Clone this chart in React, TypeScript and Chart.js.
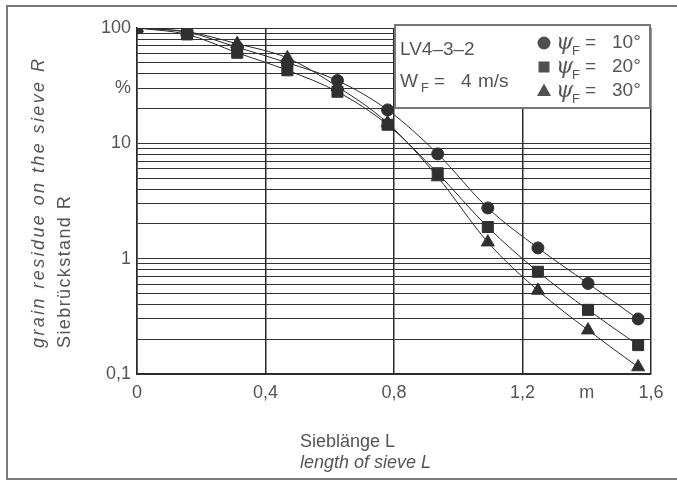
import React, { useEffect, useRef } from 'react';
import { Chart, registerables } from 'chart.js';

Chart.register(...registerables);

// ---- data ----
const sieveLength = [0, 0.156, 0.312, 0.468, 0.624, 0.78, 0.936, 1.092, 1.248, 1.404, 1.56];
const residuePsi10 = [100, 92, 68, 50, 35, 19.5, 8.1, 2.75, 1.24, 0.61, 0.3];
const residuePsi20 = [100, 88, 61, 43, 28, 14.5, 5.5, 1.88, 0.77, 0.36, 0.178];
const residuePsi30 = [100, 93, 73, 55, 31, 15, 5.1, 1.39, 0.53, 0.24, 0.115];

const xTickValues = [0, 0.4, 0.8, 1.2, 1.4, 1.6];
const xTickLabels = ['0', '0,4', '0,8', '1,2', 'm', '1,6'];
const xNoGrid = [1.4];

const yGridValues = [
  0.1, 0.2, 0.3, 0.4, 0.5, 0.6, 0.7, 0.8, 0.9,
  1, 2, 3, 4, 5, 6, 7, 8, 9,
  10, 20, 30, 40, 50, 60, 70, 80, 90, 100,
];
const yLabelValues = [0.1, 1, 10, 30, 100];
const yLabelTexts = ['0,1', '1', '10', '%', '100'];

const seriesNames = ['ψF = 10°', 'ψF = 20°', 'ψF = 30°'];
const legendAngles = ['10°', '20°', '30°'];
const testName = 'LV4–3–2';
const yTitleEn = 'grain residue on the sieve R';
const yTitleDe = 'Siebrückstand R';
const xTitleDe = 'Sieblänge L';
const xTitleEn = 'length of sieve L';

const near = (a: number, b: number) => Math.abs(a - b) <= 1e-9 * Math.max(1, Math.abs(b));

const TEXT = '#555';
const FONT = '"Liberation Sans", Arial, sans-serif';

const overlay = {
  id: 'overlay',
  afterDraw(chart: any) {
    const ctx: CanvasRenderingContext2D = chart.ctx;
    ctx.save();
    // outer frame
    ctx.strokeStyle = '#7a7a7a';
    ctx.lineWidth = 2;
    ctx.beginPath();
    ctx.moveTo(677, 6);
    ctx.lineTo(7, 6);
    ctx.lineTo(7, 479);
    ctx.lineTo(677, 479);
    ctx.stroke();

    // y titles (rotated)
    ctx.fillStyle = TEXT;
    ctx.textBaseline = 'alphabetic';
    ctx.textAlign = 'left';
    ctx.save();
    ctx.translate(44, 348);
    ctx.rotate(-Math.PI / 2);
    (ctx as any).letterSpacing = '2.4px';
    ctx.font = `italic 18px ${FONT}`;
    ctx.fillText(yTitleEn, 0, 0);
    ctx.restore();
    ctx.save();
    ctx.translate(70, 348);
    ctx.rotate(-Math.PI / 2);
    (ctx as any).letterSpacing = '1.4px';
    ctx.font = `18px ${FONT}`;
    ctx.fillText(yTitleDe, 0, 0);
    ctx.restore();

    // x titles
    ctx.font = `18px ${FONT}`;
    ctx.fillText(xTitleDe, 300, 447);
    ctx.font = `italic 18px ${FONT}`;
    ctx.fillText(xTitleEn, 300, 468);

    // legend box
    ctx.fillStyle = '#fff';
    ctx.fillRect(395, 25, 255, 83);
    ctx.strokeStyle = '#777';
    ctx.lineWidth = 2;
    ctx.strokeRect(395, 25, 255, 83);

    ctx.fillStyle = TEXT;
    ctx.textBaseline = 'middle';
    ctx.font = `19px ${FONT}`;
    ctx.fillText(testName, 400, 50);
    ctx.fillText('W', 400, 82);
    ctx.font = `13px ${FONT}`;
    ctx.fillText('F', 421, 88);
    ctx.font = `19px ${FONT}`;
    ctx.fillText('=', 434, 82);
    ctx.fillText('4', 461, 82);
    ctx.fillText('m/s', 478, 82);

    const rows = [43, 67, 91];
    rows.forEach((y, i) => {
      ctx.fillStyle = '#505050';
      ctx.beginPath();
      if (i === 0) {
        ctx.arc(544, y, 6.5, 0, Math.PI * 2);
      } else if (i === 1) {
        ctx.rect(538.5, y - 5.5, 11, 11);
      } else {
        ctx.moveTo(544, y - 7.5);
        ctx.lineTo(551, y + 5);
        ctx.lineTo(537, y + 5);
        ctx.closePath();
      }
      ctx.fill();
      ctx.fillStyle = TEXT;
      ctx.font = `italic 22px "DejaVu Serif", serif`;
      ctx.fillText('ψ', 556, y);
      ctx.font = `13px ${FONT}`;
      ctx.fillText('F', 572, y + 8);
      ctx.font = `19px ${FONT}`;
      ctx.fillText('=', 585, y);
      ctx.fillText(legendAngles[i], 612, y);
    });
    ctx.restore();
  },
};

export default function App() {
  const ref = useRef<HTMLCanvasElement>(null);
  useEffect(() => {
    if (!ref.current) return;
    const mk = (data: number[], label: string, style: string, r: number) => ({
      label,
      data: sieveLength.map((x, i) => ({ x, y: data[i] })),
      borderColor: '#2a2a2a',
      borderWidth: 1,
      backgroundColor: '#303030',
      pointBackgroundColor: '#303030',
      pointBorderColor: '#303030',
      pointStyle: style,
      pointRadius: r,
      pointBorderWidth: 1,
      cubicInterpolationMode: 'monotone',
      fill: false,
    });
    const chart = new Chart(ref.current, {
      type: 'line',
      data: {
        datasets: [
          mk(residuePsi10, seriesNames[0], 'circle', 6),
          mk(residuePsi20, seriesNames[1], 'rect', 7.8),
          mk(residuePsi30, seriesNames[2], 'triangle', 7.5),
        ] as any,
      },
      options: {
        responsive: false,
        animation: false,
        devicePixelRatio: 1,
        layout: { padding: { top: 28, right: 26, left: 0, bottom: 0 } },
        plugins: { legend: { display: false }, tooltip: { enabled: false } },
        scales: {
          x: {
            type: 'linear',
            min: 0,
            max: 1.6,
            afterBuildTicks: (s: any) => {
              s.ticks = xTickValues.map((v) => ({ value: v }));
            },
            afterFit: (s: any) => {
              s.height = 108;
            },
            grid: {
              color: (c: any) => (xNoGrid.some((v) => near(c.tick?.value, v)) ? 'rgba(0,0,0,0)' : '#2a2a2a'),
              lineWidth: 1.5,
              drawTicks: false,
            },
            border: { display: true, color: '#2a2a2a', width: 1.5 },
            ticks: {
              autoSkip: false,
              maxRotation: 0,
              padding: 8,
              color: TEXT,
              font: { family: FONT, size: 18 },
              callback: (v: any) => {
                const i = xTickValues.findIndex((t) => near(Number(v), t));
                return i >= 0 ? xTickLabels[i] : '';
              },
            },
          },
          y: {
            type: 'logarithmic',
            min: 0.1,
            max: 100,
            afterBuildTicks: (s: any) => {
              s.ticks = yGridValues.map((v) => ({ value: v }));
            },
            afterFit: (s: any) => {
              s.width = 137;
            },
            grid: { color: '#333', lineWidth: 1, drawTicks: false },
            border: { display: true, color: '#2a2a2a', width: 1.5 },
            ticks: {
              autoSkip: false,
              padding: 6,
              color: TEXT,
              font: { family: FONT, size: 18 },
              callback: (v: any) => {
                const i = yLabelValues.findIndex((t) => near(Number(v), t));
                return i >= 0 ? yLabelTexts[i] : '';
              },
            },
          },
        },
      } as any,
      plugins: [overlay],
    });
    return () => chart.destroy();
  }, []);
  return (
    <div style={{ position: 'absolute', left: 0, top: 0, width: 677, height: 482, background: '#fff' }}>
      <canvas ref={ref} width={677} height={482} style={{ display: 'block', width: 677, height: 482 }} />
    </div>
  );
}
